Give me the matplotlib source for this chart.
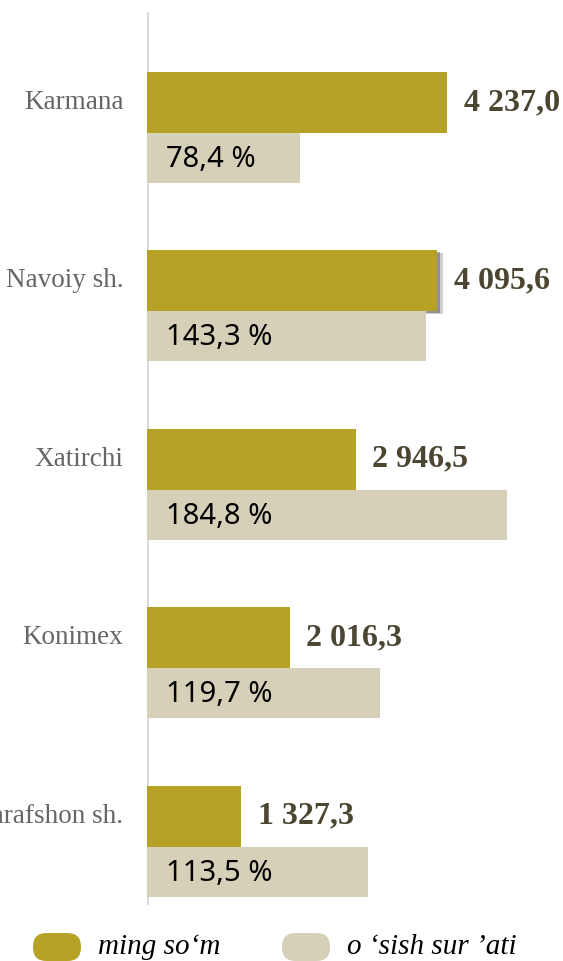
import matplotlib.pyplot as plt
import matplotlib.patheffects as pe
from matplotlib.patches import FancyBboxPatch

districts = ['Karmana', 'Navoiy sh.', 'Xatirchi', 'Konimex', 'Zarafshon sh.']
ming_som = [4237.0, 4095.6, 2946.5, 2016.3, 1327.3]
osish = [78.4, 143.3, 184.8, 119.7, 113.5]
value_labels = ['4 237,0', '4 095,6', '2 946,5', '2 016,3', '1 327,3']
pct_labels = ['78,4 %', '143,3 %', '184,8 %', '119,7 %', '113,5 %']
legend_names = ['ming so\u2018m', 'o \u2018sish sur \u2019ati']

olive = '#b5a226'
beige = '#d6d0b9'

fig = plt.figure(figsize=(5.63, 9.61), dpi=100, facecolor='white')
W, H = 563, 961
ax = fig.add_axes([147 / W, (H - 905) / H, (W - 147) / W, (905 - 12) / H])
ax2 = ax.twiny()

ax.set_xlim(0, 416 / 0.0708)
ax2.set_xlim(0, 416 / 1.949)
ax.set_ylim(4.327, -0.678)

for a in (ax, ax2):
    a.set_axis_off()
    a.patch.set_visible(False)
ax.axvline(0, color='#d9d9d9', lw=2, zorder=0)

pos = list(range(len(districts)))
y_top = [p - 0.171 for p in pos]
y_bot = [p + 0.14 for p in pos]

bars1 = ax.barh(y_top, ming_som, height=0.342, color=olive, zorder=3)
bars2 = ax2.barh(y_bot, osish, height=0.28, color=beige, zorder=2)

# soft shadow on the selected bar
bars1[1].set_path_effects([pe.SimplePatchShadow(offset=(4, -2), shadow_rgbFace='#777777', alpha=0.35, rho=0.5),
                           pe.SimplePatchShadow(offset=(2, -1), shadow_rgbFace='#555555', alpha=0.5, rho=0.5),
                           pe.Normal()])

for i in pos:
    ax.annotate(value_labels[i], (ming_som[i], y_top[i]), xytext=(12, 0), textcoords='offset points',
                ha='left', va='center', fontsize=23, fontweight='bold', family='Liberation Serif',
                color='#4b4631', zorder=5)
    ax2.annotate(pct_labels[i], (0, y_bot[i]), xytext=(14, -1), textcoords='offset points',
                 ha='left', va='center', fontsize=21, family='Noto Sans', color='black', zorder=5)
    ax.annotate(districts[i], (0, y_top[i]), xytext=(-17, 0), textcoords='offset points',
                ha='right', va='center', fontsize=19.5, family='Liberation Serif', color='#666666',
                annotation_clip=False)

# legend
for col, name, xp in [(olive, legend_names[0], 33), (beige, legend_names[1], 282)]:
    box = FancyBboxPatch((xp / W, (H - 961) / H), 48 / W, 28 / H,
                         boxstyle='round,pad=0,rounding_size=0.024', transform=fig.transFigure,
                         facecolor=col, edgecolor='none', mutation_aspect=W / H)
    fig.patches.append(box)
    fig.text((xp + 65) / W, (H - 947) / H, name, ha='left', va='center', fontsize=21,
             style='italic', family='Liberation Serif', color='black')

fig.savefig('out.png', dpi=100, facecolor='white')
